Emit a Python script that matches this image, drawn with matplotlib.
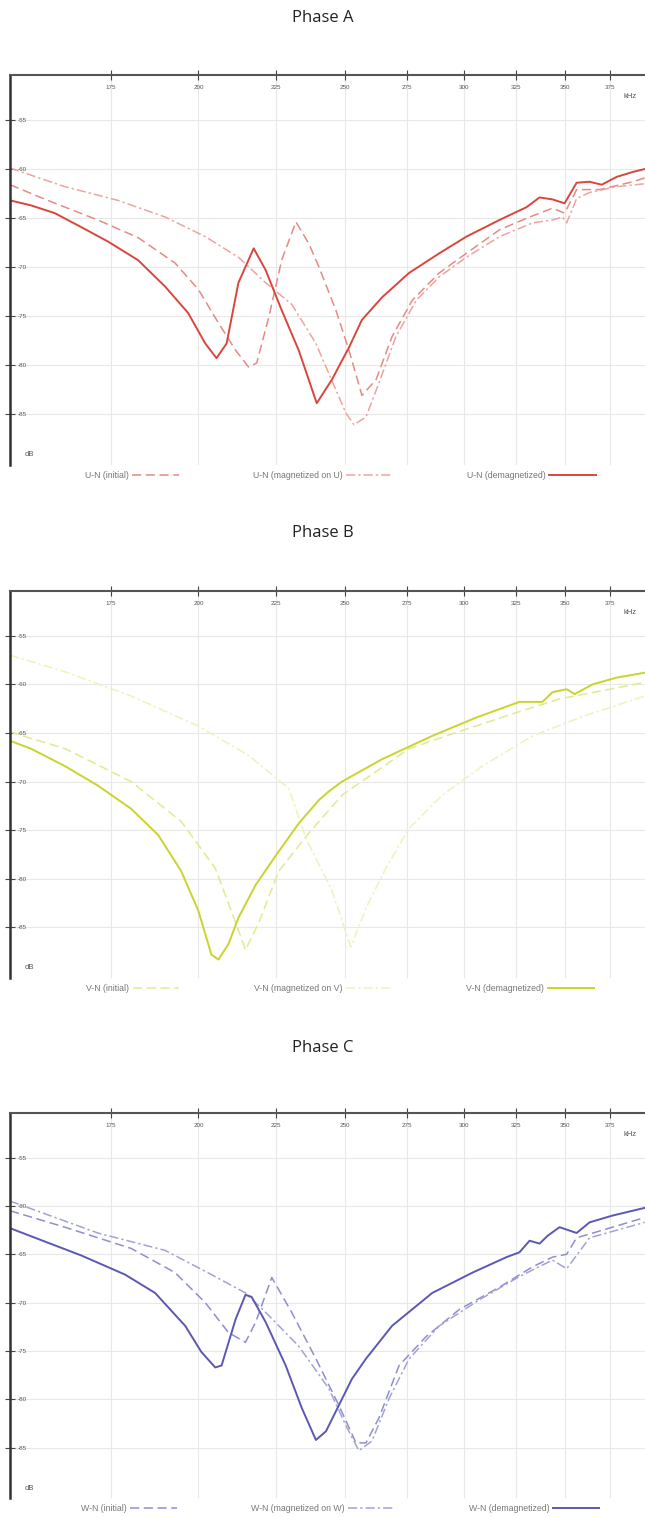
import matplotlib
matplotlib.use('Agg')
import matplotlib.pyplot as plt
from matplotlib.ticker import NullLocator

plt.rcParams['font.family'] = ['Liberation Sans', 'DejaVu Sans']

# frequency axis ticks (kHz) and dB ticks
xticks = [175, 200, 225, 250, 275, 300, 325, 350, 375]
yticks = [-55, -60, -65, -70, -75, -80, -85]

# Phase A
a_demag_f = [150, 154.8, 160.6, 167.1, 174.2, 182.4, 190.1, 196.9, 202.1, 205.6, 208.8, 212.6, 217.6,
             221.6, 227.1, 233.1, 239.6, 245.2, 251.7, 256.7, 264.7, 275.9, 288.9, 301.1, 316.7,
             330.0, 336.7, 343.4, 349.8, 356.3, 363.4, 370.2, 378.8, 388.2, 395.4]
a_demag_v = [-63.2, -63.7, -64.5, -65.9, -67.4, -69.3, -72.0, -74.7, -77.8, -79.3, -77.8, -71.6, -68.1,
             -70.3, -74.4, -78.5, -83.9, -81.5, -78.2, -75.4, -73.1, -70.6, -68.6, -66.9, -65.2,
             -63.9, -62.9, -63.1, -63.5, -61.4, -61.3, -61.6, -60.8, -60.3, -60.0]
a_init_f = [150, 158.9, 171.5, 182.4, 193.0, 200.0, 206.2, 211.7, 215.9, 218.6, 222.7, 227.1, 232.1,
            236.7, 240.4, 246.7, 251.7, 256.7, 262.3, 268.8, 277.2, 288.9, 301.1, 316.7, 331.6,
            343.4, 349.8, 356.3, 369.0, 388.2, 395.4]
a_init_v = [-61.6, -63.2, -65.2, -67.0, -69.6, -72.3, -75.7, -78.5, -80.2, -79.8, -75.1, -69.3, -65.4,
            -67.6, -70.0, -74.4, -78.5, -83.1, -81.5, -77.1, -73.4, -70.6, -68.6, -66.2, -64.9,
            -64.0, -64.5, -62.1, -62.1, -61.3, -60.9]
a_mag_f = [150, 163.1, 176.9, 190.1, 202.1, 212.6, 221.6, 230.6, 239.3, 243.0, 250.5, 253.6, 258.3,
           263.5, 270.4, 278.9, 288.9, 301.1, 316.7, 333.1, 343.4, 348.7, 350.9, 356.3, 363.4,
           378.8, 395.4]
a_mag_v = [-59.9, -61.8, -63.2, -64.9, -66.9, -69.0, -71.6, -73.8, -77.8, -80.2, -84.9, -86.1, -85.3,
           -81.8, -77.1, -73.4, -71.0, -69.0, -66.9, -65.5, -65.2, -64.9, -65.5, -63.0, -62.4,
           -61.8, -61.5]

# Phase B
b_demag_f = [150, 154.8, 163.1, 171.5, 180.5, 188.1, 194.8, 200.0, 204.0, 206.2, 209.4, 212.6, 218.3,
             225.1, 233.1, 240.4, 244.1, 249.0, 264.7, 285.8, 305.8, 326.5, 338.2, 343.4, 350.9,
             355.2, 365.1, 378.8, 395.4]
b_demag_v = [-65.8, -66.6, -68.4, -70.4, -72.8, -75.5, -79.2, -83.3, -87.8, -88.3, -86.7, -84.0, -80.6,
             -77.6, -74.3, -71.9, -71.0, -70.0, -67.7, -65.3, -63.4, -61.8, -61.8, -60.8, -60.5,
             -61.0, -60.0, -59.3, -58.8]
b_init_f = [150, 163.1, 180.5, 194.8, 205.2, 211.7, 214.9, 219.3, 226.1, 236.7, 249.0, 275.9, 301.1,
            326.5, 347.1, 369.0, 395.4]
b_init_v = [-64.9, -66.6, -70.0, -74.1, -78.9, -84.5, -87.3, -84.5, -79.2, -75.3, -71.4, -66.6, -64.6,
            -62.8, -61.5, -60.7, -59.8]
b_mag_f = [150, 163.1, 180.5, 200.0, 215.9, 229.6, 235.6, 245.2, 252.4, 258.3, 266.3, 275.9, 290.2,
           308.6, 333.1, 359.6, 395.4]
b_mag_v = [-57.0, -58.7, -61.2, -64.3, -67.3, -70.7, -75.8, -81.2, -87.0, -83.0, -78.9, -74.8, -71.4,
           -68.4, -65.3, -63.3, -61.2]

# Phase C
c_demag_f = [150, 158.9, 167.1, 178.8, 187.2, 196.0, 200.9, 205.2, 207.2, 211.7, 214.9, 216.9, 221.6,
             228.5, 234.2, 239.3, 243.0, 252.8, 258.3, 268.8, 285.8, 303.9, 320.1, 326.5, 331.6,
             336.7, 340.8, 347.1, 356.3, 363.4, 376.4, 395.4]
c_demag_v = [-62.3, -63.8, -65.1, -67.1, -69.0, -72.4, -75.1, -76.7, -76.5, -71.7, -69.2, -69.4, -72.0,
             -76.5, -80.9, -84.2, -83.3, -77.9, -75.8, -72.4, -69.0, -66.9, -65.3, -64.8, -63.6,
             -63.9, -63.1, -62.2, -62.8, -61.7, -61.0, -60.2]
c_init_f = [150, 163.1, 180.5, 193.0, 202.1, 209.4, 214.9, 218.3, 223.7, 230.6, 239.3, 247.8, 254.4,
            258.3, 263.5, 271.7, 283.2, 297.9, 316.7, 333.1, 343.4, 350.9, 356.3, 369.0, 395.4]
c_init_v = [-60.5, -62.2, -64.4, -66.9, -70.0, -73.1, -74.1, -72.0, -67.4, -71.0, -75.8, -80.6, -84.5,
            -84.5, -81.9, -76.5, -73.5, -70.7, -68.4, -66.3, -65.3, -65.0, -63.3, -62.6, -61.2]
c_mag_f = [150, 171.5, 190.1, 204.0, 214.9, 221.6, 233.1, 244.1, 250.5, 255.5, 260.7, 267.6, 275.9,
           288.9, 307.2, 326.5, 343.4, 350.9, 363.4, 395.4]
c_mag_v = [-59.5, -62.8, -64.6, -67.1, -69.0, -71.0, -74.5, -78.9, -82.7, -85.3, -84.3, -79.9, -75.8,
           -72.4, -69.7, -67.3, -65.6, -66.5, -63.3, -61.7]

phases = [
    ('Phase A', 'U', [0.0155, 0.6935, 0.9845, 0.2571], 0.988,
     ('#d8463e', '#e58a85', '#eba5a0'),
     (a_init_f, a_init_v), (a_mag_f, a_mag_v), (a_demag_f, a_demag_v)),
    ('Phase B', 'V', [0.0155, 0.3553, 0.9845, 0.2551], 0.6487,
     ('#c9d42c', '#e3e98f', '#eef2bb'),
     (b_init_f, b_init_v), (b_mag_f, b_mag_v), (b_demag_f, b_demag_v)),
    ('Phase C', 'W', [0.0155, 0.0125, 0.9845, 0.2538], 0.3092,
     ('#5a58b4', '#8f8ecf', '#a3a2d8'),
     (c_init_f, c_init_v), (c_mag_f, c_mag_v), (c_demag_f, c_demag_v)),
]

fig = plt.figure(figsize=(6.45, 15.17), dpi=100)

for title, ph, rect, ty, colors, init, mag, demag in phases:
    ax = fig.add_axes(rect)
    fig.text(0.5, ty, title, ha='center', va='center', fontsize=12,
             family=['Open Sans', 'DejaVu Sans'], color='#222')

    ax.plot(init[0], init[1], color=colors[1], lw=1.1, ls=(0, (6, 3)),
            label=f'{ph}-N (initial)')
    ax.plot(mag[0], mag[1], color=colors[2], lw=1.1, ls=(0, (6, 2, 1.5, 2)),
            label=f'{ph}-N (magnetized on {ph})')
    ax.plot(demag[0], demag[1], color=colors[0], lw=1.4, ls='-',
            label=f'{ph}-N (demagnetized)')

    ax.set_xscale('log')
    ax.set_xlim(150, 395.5)
    ax.set_ylim(-90.2, -50.4)
    ax.set_xticks(xticks, labels=[str(t) for t in xticks])
    ax.xaxis.set_minor_locator(NullLocator())
    ax.set_yticks(yticks, labels=[str(t) for t in yticks])
    ax.xaxis.tick_top()
    ax.tick_params(axis='x', direction='inout', length=7, width=0.8, pad=-14,
                   labelsize=4.5, colors='#444', labelcolor='#555')
    ax.tick_params(axis='y', direction='inout', length=7, width=0.8, pad=-9,
                   labelsize=4.5, colors='#444', labelcolor='#555')
    for lab in ax.get_yticklabels():
        lab.set_horizontalalignment('left')

    ax.grid(True, color='#e8e8e8', lw=0.8)
    ax.spines['right'].set_visible(False)
    ax.spines['bottom'].set_visible(False)
    ax.spines['left'].set_color('#333')
    ax.spines['left'].set_linewidth(1.8)
    ax.spines['top'].set_color('#555')
    ax.spines['top'].set_linewidth(1.5)

    ax.text(0.976, 0.945, 'kHz', transform=ax.transAxes, ha='center', va='center',
            fontsize=5.5, color='#555')
    ax.text(0.03, 0.026, 'dB', transform=ax.transAxes, ha='center', va='center',
            fontsize=5.5, color='#555')

    ax.legend(ncol=3, markerfirst=False, frameon=False, loc='upper center',
              bbox_to_anchor=(0.52, 0.005), fontsize=6.3, handlelength=5.3,
              columnspacing=8.5, handletextpad=0.4, labelcolor='#777')

fig.savefig('out.png', dpi=100, facecolor='white')
